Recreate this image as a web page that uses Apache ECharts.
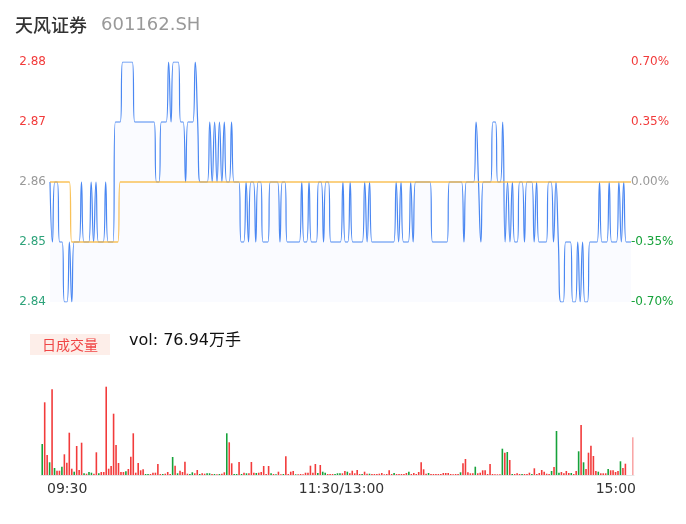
<!DOCTYPE html>
<html>
<head>
<meta charset="utf-8">
<title>天风证券 601162.SH</title>
<script src="https://cdn.jsdelivr.net/npm/echarts@6/dist/echarts.min.js"></script>
<style>
  html, body { margin: 0; padding: 0; background: #fff; }
  #chart { width: 686px; height: 524px; }
</style>
</head>
<body>
<div id="chart"></div>
<script>
// Stock identity and day summary
const stockName = '天风证券';
const stockCode = '601162.SH';
const volumeTitle = '日成交量';
const volumeText = 'vol: 76.94万手';
const prevClose = 2.86;

// Time-axis tick labels and the minute slots they sit on
const tickLabels = ['09:30', '11:30/13:00', '15:00'];
const tickSlots = [0, 120, 240];

// Minute prices, 09:30 .. 11:30 then 13:01 .. 15:00 (241 points)
const price = [
  2.86, 2.85, 2.86, 2.86, 2.85, 2.85, 2.84, 2.84, 2.85, 2.84,
  2.85, 2.85, 2.85, 2.86, 2.85, 2.85, 2.85, 2.86, 2.85, 2.86,
  2.85, 2.85, 2.85, 2.86, 2.85, 2.85, 2.85, 2.87, 2.87, 2.87,
  2.88, 2.88, 2.88, 2.88, 2.88, 2.87, 2.87, 2.87, 2.87, 2.87,
  2.87, 2.87, 2.87, 2.87, 2.86, 2.86, 2.87, 2.87, 2.87, 2.88,
  2.87, 2.88, 2.88, 2.88, 2.87, 2.87, 2.86, 2.87, 2.87, 2.87,
  2.88, 2.87, 2.86, 2.86, 2.86, 2.86, 2.87, 2.86, 2.87, 2.86,
  2.87, 2.86, 2.87, 2.86, 2.86, 2.87, 2.86, 2.86, 2.86, 2.85,
  2.85, 2.86, 2.85, 2.86, 2.86, 2.85, 2.86, 2.86, 2.85, 2.85,
  2.85, 2.86, 2.86, 2.86, 2.86, 2.85, 2.86, 2.86, 2.85, 2.85,
  2.85, 2.85, 2.85, 2.85, 2.86, 2.85, 2.85, 2.86, 2.85, 2.85,
  2.85, 2.86, 2.86, 2.85, 2.86, 2.86, 2.85, 2.85, 2.85, 2.85,
  2.85, 2.86, 2.85, 2.85, 2.86, 2.85, 2.85, 2.85, 2.85, 2.85,
  2.86, 2.85, 2.86, 2.85, 2.85, 2.85, 2.85, 2.85, 2.85, 2.85,
  2.85, 2.85, 2.85, 2.86, 2.85, 2.86, 2.85, 2.85, 2.85, 2.86,
  2.85, 2.86, 2.86, 2.86, 2.86, 2.86, 2.86, 2.86, 2.85, 2.85,
  2.85, 2.85, 2.85, 2.85, 2.85, 2.86, 2.86, 2.86, 2.86, 2.86,
  2.86, 2.85, 2.86, 2.86, 2.86, 2.86, 2.87, 2.86, 2.85, 2.86,
  2.86, 2.86, 2.86, 2.87, 2.87, 2.86, 2.86, 2.87, 2.85, 2.86,
  2.85, 2.86, 2.85, 2.85, 2.86, 2.86, 2.85, 2.86, 2.86, 2.86,
  2.85, 2.86, 2.85, 2.85, 2.85, 2.85, 2.86, 2.86, 2.85, 2.86,
  2.85, 2.84, 2.84, 2.85, 2.85, 2.85, 2.84, 2.84, 2.85, 2.84,
  2.85, 2.84, 2.84, 2.85, 2.85, 2.85, 2.85, 2.86, 2.85, 2.85,
  2.85, 2.86, 2.85, 2.85, 2.85, 2.86, 2.85, 2.86, 2.85, 2.85,
  2.85
];

// Minute average price
const avgPrice = [
  2.86, 2.86, 2.86, 2.86, 2.86, 2.86, 2.86, 2.86, 2.86, 2.85,
  2.85, 2.85, 2.85, 2.85, 2.85, 2.85, 2.85, 2.85, 2.85, 2.85,
  2.85, 2.85, 2.85, 2.85, 2.85, 2.85, 2.85, 2.85, 2.85, 2.86,
  2.86, 2.86, 2.86, 2.86, 2.86, 2.86, 2.86, 2.86, 2.86, 2.86,
  2.86, 2.86, 2.86, 2.86, 2.86, 2.86, 2.86, 2.86, 2.86, 2.86,
  2.86, 2.86, 2.86, 2.86, 2.86, 2.86, 2.86, 2.86, 2.86, 2.86,
  2.86, 2.86, 2.86, 2.86, 2.86, 2.86, 2.86, 2.86, 2.86, 2.86,
  2.86, 2.86, 2.86, 2.86, 2.86, 2.86, 2.86, 2.86, 2.86, 2.86,
  2.86, 2.86, 2.86, 2.86, 2.86, 2.86, 2.86, 2.86, 2.86, 2.86,
  2.86, 2.86, 2.86, 2.86, 2.86, 2.86, 2.86, 2.86, 2.86, 2.86,
  2.86, 2.86, 2.86, 2.86, 2.86, 2.86, 2.86, 2.86, 2.86, 2.86,
  2.86, 2.86, 2.86, 2.86, 2.86, 2.86, 2.86, 2.86, 2.86, 2.86,
  2.86, 2.86, 2.86, 2.86, 2.86, 2.86, 2.86, 2.86, 2.86, 2.86,
  2.86, 2.86, 2.86, 2.86, 2.86, 2.86, 2.86, 2.86, 2.86, 2.86,
  2.86, 2.86, 2.86, 2.86, 2.86, 2.86, 2.86, 2.86, 2.86, 2.86,
  2.86, 2.86, 2.86, 2.86, 2.86, 2.86, 2.86, 2.86, 2.86, 2.86,
  2.86, 2.86, 2.86, 2.86, 2.86, 2.86, 2.86, 2.86, 2.86, 2.86,
  2.86, 2.86, 2.86, 2.86, 2.86, 2.86, 2.86, 2.86, 2.86, 2.86,
  2.86, 2.86, 2.86, 2.86, 2.86, 2.86, 2.86, 2.86, 2.86, 2.86,
  2.86, 2.86, 2.86, 2.86, 2.86, 2.86, 2.86, 2.86, 2.86, 2.86,
  2.86, 2.86, 2.86, 2.86, 2.86, 2.86, 2.86, 2.86, 2.86, 2.86,
  2.86, 2.86, 2.86, 2.86, 2.86, 2.86, 2.86, 2.86, 2.86, 2.86,
  2.86, 2.86, 2.86, 2.86, 2.86, 2.86, 2.86, 2.86, 2.86, 2.86,
  2.86, 2.86, 2.86, 2.86, 2.86, 2.86, 2.86, 2.86, 2.86, 2.86,
  2.86
];

// Minute volume, in 手
const volume = [
  15500, 36350, 10000, 6350, 42850, 3500, 2150, 2150, 4150, 10350,
  6150, 21150, 3150, 1650, 14500, 2500, 16150, 850, 650, 1500,
  1150, 650, 11350, 850, 1500, 1500, 44150, 3150, 4500, 30650,
  15000, 6000, 1500, 1500, 1850, 3000, 9150, 20850, 1150, 6000,
  2350, 2850, 500, 500, 500, 1150, 1150, 5500, 500, 500,
  650, 1500, 500, 9000, 4650, 850, 2150, 1500, 6650, 650,
  500, 1350, 850, 2500, 500, 850, 650, 850, 850, 500,
  500, 350, 500, 650, 1350, 20850, 16350, 5850, 500, 500,
  6500, 500, 1150, 850, 850, 6500, 1150, 1000, 1150, 1500,
  4500, 500, 4500, 850, 500, 350, 1650, 350, 500, 9350,
  500, 1650, 2000, 350, 350, 500, 350, 1150, 1150, 4650,
  1150, 5500, 1000, 5000, 1650, 1150, 500, 500, 500, 500,
  850, 850, 850, 2000, 1650, 850, 2150, 850, 2500, 500,
  500, 1650, 650, 650, 500, 500, 500, 650, 1000, 350,
  500, 2350, 500, 1000, 500, 500, 500, 500, 1000, 1650,
  500, 1000, 500, 1500, 6350, 2850, 650, 1000, 500, 500,
  500, 500, 500, 1000, 1000, 1000, 500, 350, 500, 500,
  1350, 5850, 8000, 1350, 850, 850, 4150, 850, 1150, 2350,
  2350, 500, 5500, 500, 350, 350, 350, 13150, 11150, 11500,
  7500, 500, 500, 850, 500, 500, 500, 500, 1150, 500,
  3350, 500, 1000, 2500, 1650, 650, 500, 2000, 4000, 22000,
  1150, 1500, 850, 2000, 1000, 1000, 500, 2000, 11850, 25000,
  6350, 3000, 11150, 14650, 9500, 2000, 1650, 850, 850, 850,
  3000, 2350, 2350, 1500, 2000, 6850, 3500, 5650, 0, 0,
  18850
];

// Trade side of each minute: 1 = buy-side (red), -1 = sell-side (green)
const volumeSide = [
  -1, 1, 1, -1, 1, -1, 1, 1, -1, 1,
  1, 1, 1, -1, 1, 1, 1, -1, 1, -1,
  -1, 1, 1, -1, 1, 1, 1, 1, 1, 1,
  1, 1, 1, 1, -1, 1, 1, 1, 1, 1,
  1, 1, -1, -1, 1, 1, 1, 1, 1, -1,
  1, 1, 1, -1, 1, -1, 1, 1, 1, 1,
  -1, -1, 1, 1, -1, 1, 1, -1, -1, 1,
  -1, 1, -1, 1, 1, -1, 1, 1, -1, -1,
  1, -1, 1, -1, 1, 1, 1, -1, 1, 1,
  1, 1, 1, -1, 1, -1, 1, 1, -1, 1,
  1, 1, 1, -1, 1, 1, 1, 1, 1, 1,
  1, 1, -1, 1, -1, -1, 1, 1, 1, -1,
  -1, -1, 1, 1, -1, 1, 1, 1, 1, 1,
  -1, 1, 1, -1, 1, 1, 1, 1, 1, 1,
  1, 1, 1, -1, 1, 1, 1, 1, 1, -1,
  1, 1, 1, 1, 1, 1, 1, -1, 1, 1,
  1, 1, 1, 1, 1, 1, 1, 1, 1, 1,
  -1, 1, 1, 1, 1, 1, -1, 1, 1, 1,
  1, 1, 1, 1, 1, 1, 1, -1, 1, -1,
  1, -1, 1, 1, 1, -1, 1, 1, 1, -1,
  1, 1, 1, 1, 1, 1, 1, -1, 1, -1,
  -1, 1, 1, 1, 1, -1, 1, 1, -1, 1,
  -1, 1, 1, 1, 1, 1, -1, 1, 1, 1,
  -1, 1, 1, 1, 1, -1, 1, 1, 1, 1,
  1
];

// Minute slot names for the category axes
function pad2(n) { return (n < 10 ? '0' : '') + n; }
const minutes = [];
for (let m = 9 * 60 + 30; m <= 11 * 60 + 30; m++) minutes.push(pad2(Math.floor(m / 60)) + ':' + pad2(m % 60));
for (let m = 13 * 60 + 1; m <= 15 * 60; m++) minutes.push(pad2(Math.floor(m / 60)) + ':' + pad2(m % 60));

const UP = '#f23b3b';
const DOWN = '#16a23a';
const LEFT_DOWN = '#2ea37a';
const FLAT = '#999999';
const FONT = 'DejaVu Sans, "Noto Sans CJK SC", sans-serif';

const lastIdx = volume.length - 1;
const volumeBars = volume.map((v, i) => ({
  value: v,
  itemStyle: {
    color: volumeSide[i] > 0 ? UP : DOWN,
    opacity: i === lastIdx ? 0.45 : 1
  }
}));

const chart = echarts.init(document.getElementById('chart'), null, { renderer: 'canvas' });

chart.setOption({
  animation: false,
  backgroundColor: '#ffffff',
  textStyle: { fontFamily: FONT },
  title: [
    {
      text: stockName, left: 15, top: 16, padding: 0,
      textStyle: { fontSize: 18, fontWeight: 500, color: '#333333', fontFamily: '"Noto Sans CJK SC", sans-serif' }
    },
    {
      text: stockCode, left: 101, top: 16, padding: 0,
      textStyle: { fontSize: 18, fontWeight: 'normal', color: '#999999', fontFamily: FONT }
    },
    {
      text: volumeTitle, left: 30, top: 334, padding: [3, 12],
      backgroundColor: '#fdeee9',
      textStyle: { fontSize: 14, fontWeight: 'normal', color: '#f04545', fontFamily: '"Noto Sans CJK SC", sans-serif', lineHeight: 15 }
    },
    {
      text: volumeText, left: 129, top: 333, padding: 0,
      textStyle: { fontSize: 16, fontWeight: 'normal', color: '#111111', fontFamily: FONT }
    }
  ],
  grid: [
    { left: 50, right: 55, top: 62, height: 240 },
    { left: 41, right: 52, top: 380, height: 95 },
    { left: 47, right: 50, top: 474, height: 1 }
  ],
  xAxis: [
    {
      type: 'category', gridIndex: 0, data: minutes, boundaryGap: false,
      axisLine: { show: false }, axisTick: { show: false }, axisLabel: { show: false }, splitLine: { show: false }
    },
    {
      type: 'category', gridIndex: 1, data: minutes, boundaryGap: true,
      axisLine: { show: true, lineStyle: { color: '#e6e6e6', width: 1 } },
      axisTick: { show: false }, axisLabel: { show: false }, splitLine: { show: false }
    },
    {
      type: 'category', gridIndex: 2, data: minutes, boundaryGap: false,
      axisLine: { show: false }, axisTick: { show: false }, splitLine: { show: false },
      axisLabel: {
        show: true, margin: 7, fontSize: 14, color: '#333333', fontFamily: FONT,
        interval: (idx) => tickSlots.indexOf(idx) >= 0,
        formatter: (val, idx) => {
          const k = tickSlots.indexOf(idx);
          return k >= 0 ? tickLabels[k] : '';
        },
        alignMinLabel: 'left', alignMaxLabel: 'right'
      }
    }
  ],
  yAxis: [
    {
      type: 'value', gridIndex: 0, position: 'left', scale: true,
      min: 2.84, max: 2.88, interval: 0.01,
      axisLine: { show: false }, axisTick: { show: false }, splitLine: { show: false },
      axisLabel: {
        margin: 4, fontSize: 12, fontFamily: FONT,
        formatter: (v) => v.toFixed(2),
        color: (v) => {
          const d = Math.round(Number(v) * 100) - Math.round(prevClose * 100);
          return d > 0 ? UP : (d < 0 ? LEFT_DOWN : FLAT);
        }
      }
    },
    {
      type: 'value', gridIndex: 0, position: 'right',
      min: -0.70, max: 0.70, interval: 0.35,
      axisLine: { show: false }, axisTick: { show: false }, splitLine: { show: false },
      axisLabel: {
        margin: 0, fontSize: 12, fontFamily: FONT,
        formatter: (v) => v.toFixed(2) + '%',
        color: (v) => {
          const d = Math.round(Number(v) * 100);
          return d > 0 ? UP : (d < 0 ? DOWN : FLAT);
        }
      }
    },
    {
      type: 'value', gridIndex: 1, min: 0, max: 47500,
      axisLine: { show: false }, axisTick: { show: false }, axisLabel: { show: false }, splitLine: { show: false }
    },
    {
      type: 'value', gridIndex: 2, min: 0, max: 1,
      axisLine: { show: false }, axisTick: { show: false }, axisLabel: { show: false }, splitLine: { show: false }
    }
  ],
  series: [
    {
      name: '价格', type: 'line', xAxisIndex: 0, yAxisIndex: 0,
      data: price, smooth: true, symbol: 'none',
      lineStyle: { color: '#4a87f2', width: 1.2 },
      areaStyle: { color: 'rgba(80,130,240,0.045)', origin: 'start' },
      z: 2
    },
    {
      name: '均价', type: 'line', xAxisIndex: 0, yAxisIndex: 0,
      data: avgPrice, smooth: true, symbol: 'none',
      lineStyle: { color: '#f8b73c', width: 1.3, opacity: 0.85 },
      z: 3
    },
    {
      name: '成交量', type: 'bar', xAxisIndex: 1, yAxisIndex: 2,
      data: volumeBars, barWidth: '65%'
    }
  ]
});
</script>
</body>
</html>
